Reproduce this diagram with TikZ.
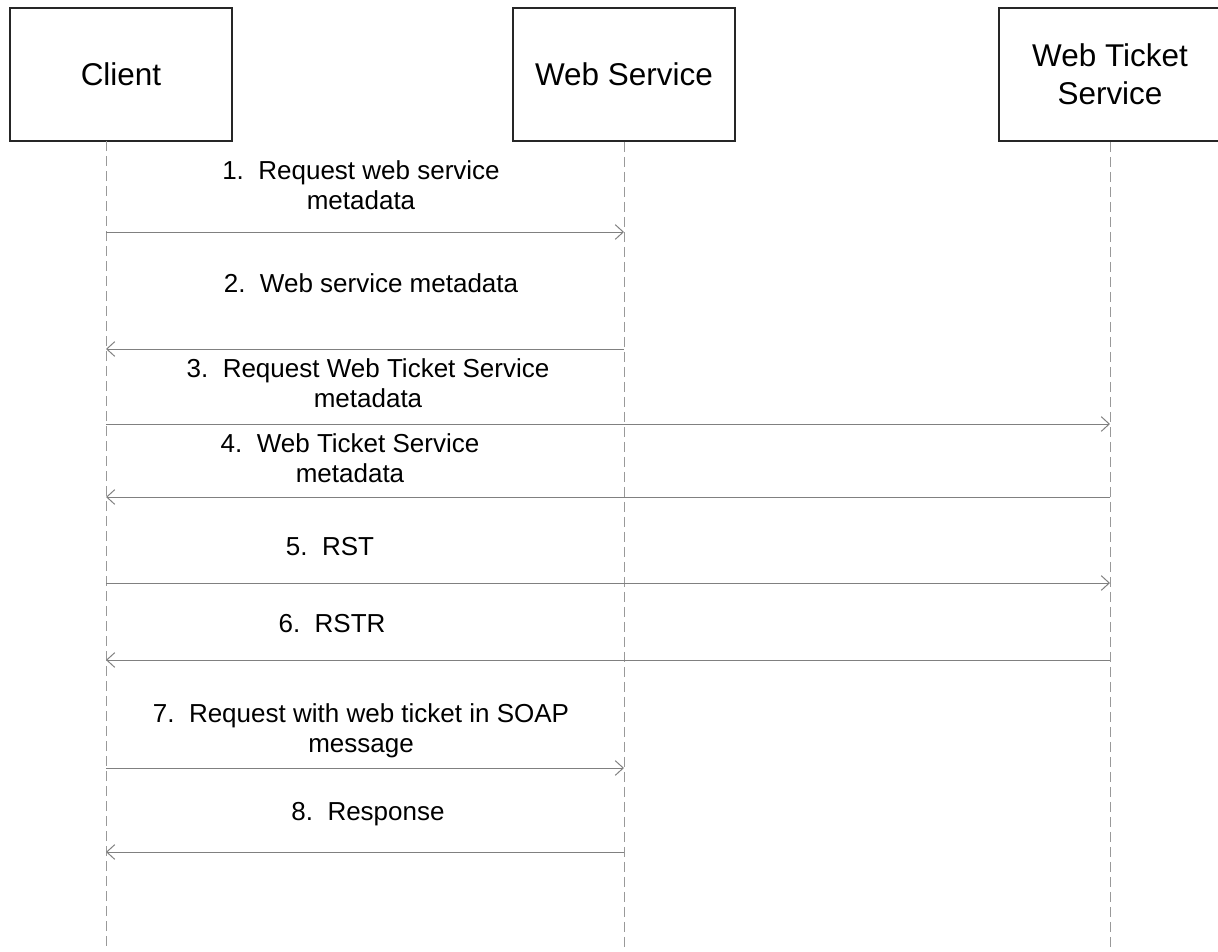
\documentclass[tikz,border=0pt]{standalone}
\usepackage{fontspec}
\setmainfont{Liberation Sans}
\usetikzlibrary{arrows.meta}
\tikzset{
  actor/.style={draw=black!85, line width=1.2pt, minimum width=166.5pt,
    minimum height=99.75pt, align=center, font=\fontsize{23.6}{28.5}\selectfont},
  lifeline/.style={draw=black!40, line width=0.75pt, dash pattern=on 7.5pt off 3.75pt},
  msg/.style={draw=black!50, line width=0.75pt, -{Straight Barb[length=6pt,width=11pt]}},
  msglabel/.style={align=center, font=\fontsize{19.5}{22.5}\selectfont}
}
\begin{document}
\begin{tikzpicture}[x=0.75pt,y=-0.75pt]
            \useasboundingbox (0,0) rectangle (1218,951);
            % participants
            \node[actor] (client) at (121,74.5) {Client};
            \node[actor] (websvc) at (624,74.5) {Web Service};
            \node[actor] (ticketsvc) at (1110,74.5) {Web Ticket\\Service};
            % lifelines
            \coordinate (clientTop) at (106,141);
            \coordinate (clientEnd) at (106,951);
            \coordinate (websvcEnd) at (624,951);
            \coordinate (ticketsvcEnd) at (1110,951);
            \draw[lifeline] (clientTop) -- (clientEnd);
            \draw[lifeline] (websvc.south) -- (websvcEnd);
            \draw[lifeline] (ticketsvc.south) -- (ticketsvcEnd);
            % messages
            \foreach \y/\a/\b in {232/clientTop/websvc, 349/websvc/clientTop,
                                  424/clientTop/ticketsvc, 497/ticketsvc/clientTop,
                                  583/clientTop/ticketsvc, 660/ticketsvc/clientTop,
                                  768/clientTop/websvc, 852/websvc/clientTop} {
                \draw[msg] (\a |- 0,\y) -- (\b |- 0,\y);
            }
            \node[msglabel] (m1) at (361,185) {1.~~Request web service\\metadata};
            \node[msglabel] (m2) at (371,283) {2.~~Web service metadata};
            \node[msglabel] (m3) at (368,383.5) {3.~~Request Web Ticket Service\\metadata};
            \node[msglabel] (m4) at (350,458) {4.~~Web Ticket Service\\metadata};
            \node[msglabel] (m5) at (330,547) {5.~~RST};
            \node[msglabel] (m6) at (332,624) {6.~~RSTR};
            \node[msglabel] (m7) at (361,730.5) {7.~~Request with web ticket in SOAP\\message};
            \node[msglabel] (m8) at (368,814) {8.~~Response};
        \end{tikzpicture}
\end{document}
